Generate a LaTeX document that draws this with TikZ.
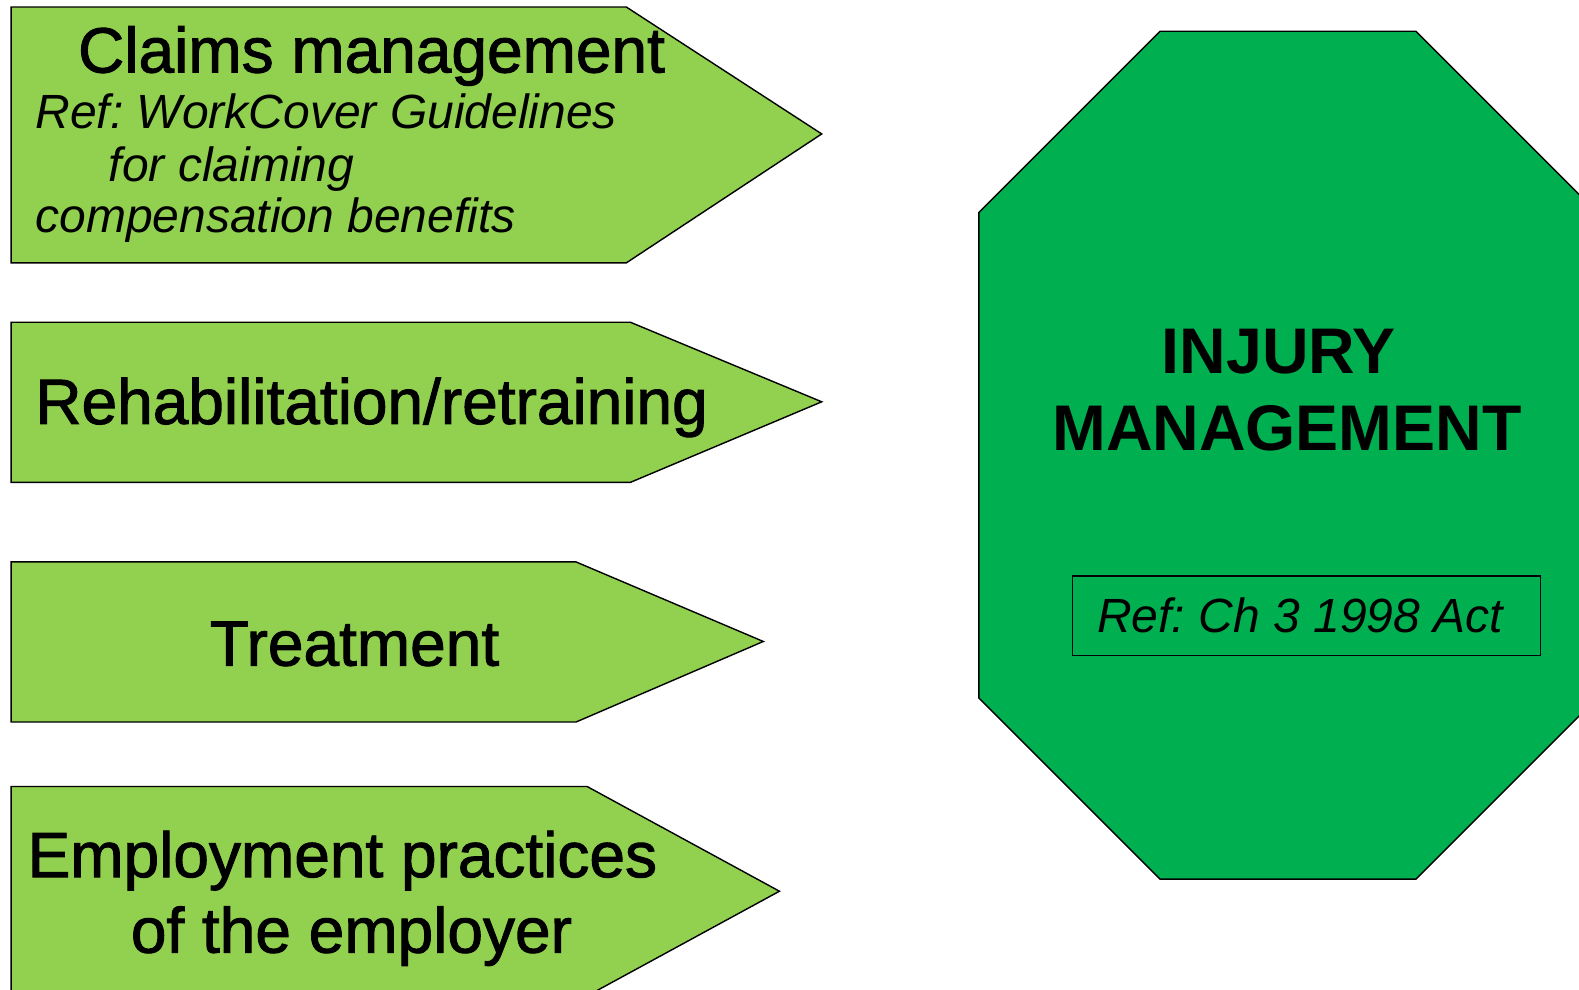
\documentclass[tikz,border=0pt]{standalone}
\usepackage{fontspec}
\setmainfont{Liberation Sans}
\newfontfamily\headfont[FakeBold=1.5]{Liberation Sans}
\definecolor{lightgreen}{HTML}{92D050}
\definecolor{deepgreen}{HTML}{00B050}
\frenchspacing
\begin{document}
\begin{tikzpicture}[x=1.00702pt,y=-1.00702pt,
  arrowshape/.style={fill=lightgreen,draw=black,line width=1.4pt,line join=miter},
  octshape/.style={fill=deepgreen,draw=black,line width=1.4pt,line join=miter},
  headtext/.style={anchor=base,inner sep=0pt,font=\headfont\fontsize{64}{64}\selectfont},
  reftext/.style={anchor=base west,inner sep=0pt,font=\itshape\fontsize{48}{48}\selectfont},
  titletext/.style={anchor=base,inner sep=0pt,font=\bfseries\fontsize{64.5}{64.5}\selectfont},
  refbox/.style={draw=black,line width=1.4pt,minimum width=468.3pt,minimum height=79.5pt,inner sep=0pt}]
\useasboundingbox (0,0) rectangle (1568,983);

% arrow-shaped panels on the left
\draw[arrowshape] (11,7) -- (622,7) -- (816,133) -- (622,261) -- (11,261) -- cycle;
\draw[arrowshape] (11,320) -- (626,320) -- (816,399) -- (626,479) -- (11,479) -- cycle;
\draw[arrowshape] (11,558) -- (572,558) -- (758,637) -- (572,717) -- (11,717) -- cycle;
\draw[arrowshape] (11,781) -- (583,781) -- (774,885) -- (583,989) -- (11,989) -- cycle;

% octagon on the right
\draw[octshape] (1152,31) -- (1406,31) -- (1586,211) -- (1586,693) -- (1406,873)
  -- (1152,873) -- (972,693) -- (972,211) -- cycle;

% panel labels
\node[headtext] (claims) at (369,72) {Claims management};
\node[reftext] (ref1) at (35,128) {Ref: WorkCover Guidelines};
\node[reftext] (ref2) at (108,180) {for claiming};
\node[reftext] (ref3) at (35,231) {compensation benefits};
\node[headtext] (rehab) at (369,421) {Rehabilitation/retraining};
\node[headtext] (treat) at (352,661) {Treatment};
\node[headtext] (employ1) at (340,871) {Employment practices};
\node[headtext] (employ2) at (349,946) {of the employer};

% octagon labels
\node[titletext] (injury) at (1270,371) {INJURY};
\node[titletext] (mgmt) at (1278,447) {MANAGEMENT};
\node[refbox] (actbox) at (1297.5,611.5) {};
\node[anchor=base,inner sep=0pt,font=\itshape\fontsize{48}{48}\selectfont] (act) at (1291,628) {Ref: Ch 3 1998 Act};
\end{tikzpicture}
\end{document}
